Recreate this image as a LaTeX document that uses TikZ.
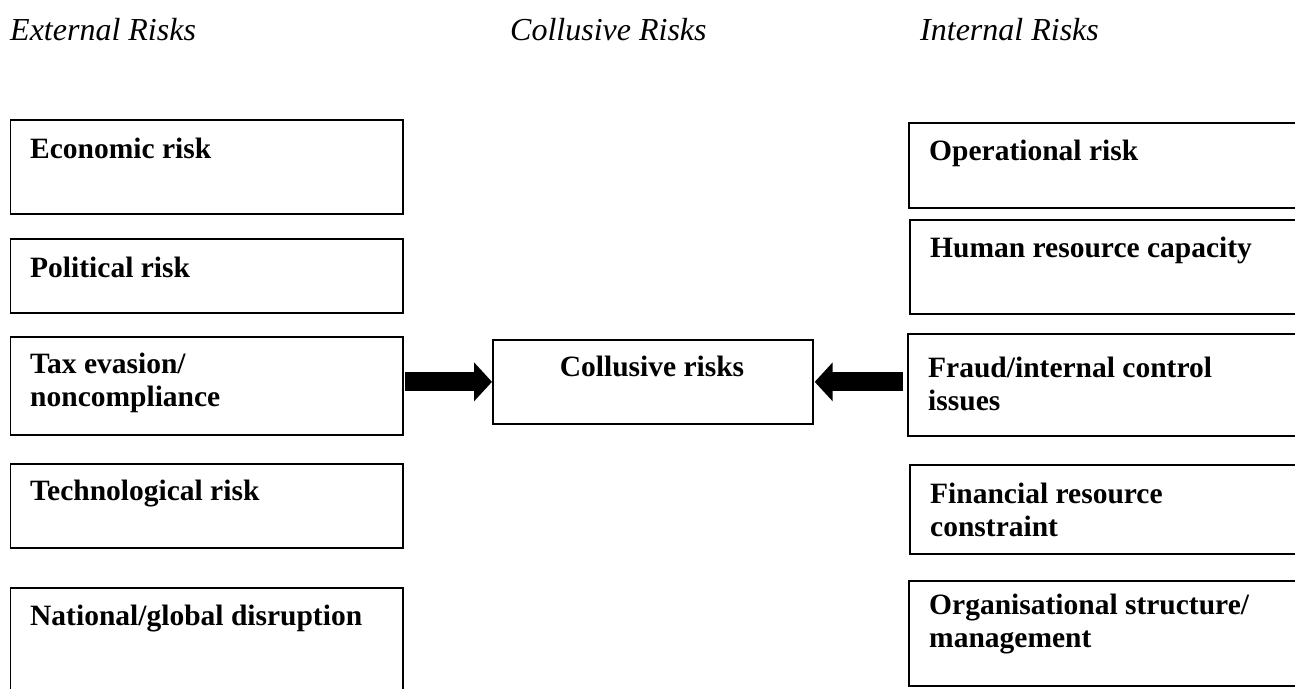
\documentclass[tikz,border=0pt]{standalone}
\usepackage{fontspec}
\setmainfont{Liberation Serif}
\usetikzlibrary{arrows.meta}
\begin{document}
\begin{tikzpicture}[x=1pt,y=-1pt,
  box/.style={draw=black, line width=1.7pt, anchor=north west, inner sep=0pt},
  lbox/.style={box, minimum width=392.5pt},
  rbox/.style={box, minimum width=402pt},
  lbl/.style={anchor=base west, inner sep=0pt, font=\fontsize{29.5}{33}\selectfont\bfseries},
  hdr/.style={anchor=base west, inner sep=0pt, font=\fontsize{32}{36}\selectfont\itshape},
  fatarrow/.style={line width=19pt, -{Triangle[length=18pt,width=38pt]}}]
\useasboundingbox (0,0) rectangle (1295,688);
\clip (0,0) rectangle (1295,688);
% headers
\node[hdr] (hext) at (10,40) {External Risks};
\node[hdr] (hcol) at (510,40) {Collusive Risks};
\node[hdr] (hint) at (920,40) {Internal Risks};
% left boxes
\node[lbox, minimum height=94pt] (L1) at (9.5,119) {};
\node[lbox, minimum height=74pt] (L2) at (9.5,238) {};
\node[lbox, minimum height=98pt] (L3) at (9.5,336) {};
\node[lbox, minimum height=84pt] (L4) at (9.5,463) {};
\node[lbox, minimum height=130pt] (L5) at (9.5,587) {};
\node[lbl] (t1) at (30,158) {Economic risk};
\node[lbl] (t2) at (30,277) {Political risk};
\node[lbl] (t3a) at (30,373) {Tax evasion/};
\node[lbl] (t3b) at (30,406) {noncompliance};
\node[lbl] (t4) at (30,500) {Technological risk};
\node[lbl] (t5) at (30,625) {National/global disruption};
% right boxes
\node[rbox, minimum height=85pt] (R1) at (908,122) {};
\node[rbox, minimum height=94pt] (R2) at (909,219) {};
\node[rbox, minimum height=102pt] (R3) at (907,333) {};
\node[rbox, minimum height=89pt] (R4) at (909,464) {};
\node[rbox, minimum height=105pt] (R5) at (908,580) {};
\node[lbl] (s1) at (929,160) {Operational risk};
\node[lbl] (s2) at (930,257) {Human resource capacity};
\node[lbl] (s3a) at (928,377) {Fraud/internal control};
\node[lbl] (s3b) at (928,410) {issues};
\node[lbl] (s4a) at (930,503) {Financial resource};
\node[lbl] (s4b) at (930,536) {constraint};
\node[lbl] (s5a) at (929,614) {Organisational structure/};
\node[lbl] (s5b) at (929,647) {management};
% centre
\node[box, minimum width=320pt, minimum height=84pt] (C) at (492,339) {};
\node[lbl, anchor=base] (ct) at (652,376) {Collusive risks};
% arrows
\draw[fatarrow] ([xshift=1pt]L3.east |- C.west) -- (C.west);
\draw[fatarrow] ([xshift=-4pt]R3.west |- C.east) -- ([xshift=1pt]C.east);
\end{tikzpicture}
\end{document}
